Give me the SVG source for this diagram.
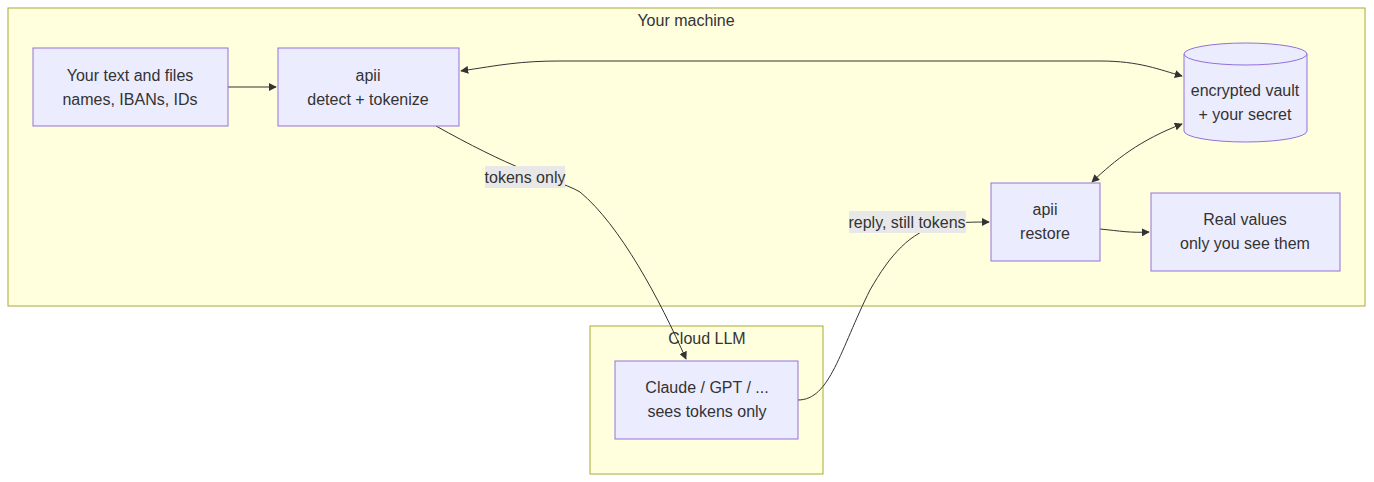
<svg xmlns="http://www.w3.org/2000/svg" width="1374" height="482" viewBox="0 0 1374 482">
<style>
text{font-family:"Liberation Sans",Arial,sans-serif;font-size:16px;fill:#333;text-anchor:middle;dominant-baseline:central}
.cl{fill:#ffffde;stroke:#aaaa33;stroke-width:1}
.n{fill:#ECECFF;stroke:#9370DB;stroke-width:1}
.e{fill:none;stroke:#333;stroke-width:1}
.lb{fill:#e8e8e8}
</style>
<defs>
<marker id="ah" viewBox="0 0 10 10" refX="9" refY="5" markerWidth="8" markerHeight="8" orient="auto"><path d="M0,0L10,5L0,10z" fill="#333"/></marker>
<marker id="as" viewBox="0 0 10 10" refX="1" refY="5" markerWidth="8" markerHeight="8" orient="auto"><path d="M10,0L0,5L10,10z" fill="#333"/></marker>
</defs>
<g id="cluster-machine"><rect class="cl" x="8" y="8" width="1357" height="298"/><text x="686" y="20">Your machine</text></g>
<g id="cluster-cloud"><rect class="cl" x="590" y="326" width="233" height="148"/><text x="707" y="338">Cloud LLM</text></g>
<g id="edges">
<path class="e" d="M228,87L276,87" marker-end="url(#ah)"/>
<path class="e" d="M461,71C500,65 520,61 560,61L1100,61C1140,61 1160,70 1182,76" marker-start="url(#as)" marker-end="url(#ah)"/>
<path class="e" d="M436,126C470,145 500,160 525,170C545,180 565,183 580,192C620,225 660,300 686,359" marker-end="url(#ah)"/>
<path class="e" d="M798,400C830,400 840,350 870,290C890,255 910,232 940,225C960,222 975,222 989,222" marker-end="url(#ah)"/>
<path class="e" d="M1100,229C1120,231 1130,233 1149,232" marker-end="url(#ah)"/>
<path class="e" d="M1092,182C1115,160 1140,140 1182,124" marker-start="url(#as)" marker-end="url(#ah)"/>
<rect class="lb" x="485" y="166" width="80" height="22"/><text x="525" y="177">tokens only</text>
<rect class="lb" x="849" y="211" width="117" height="22"/><text x="907" y="222">reply, still tokens</text>
</g>
<g id="node-input"><rect class="n" x="33" y="48" width="195" height="78"/><text x="130" y="75">Your text and files</text><text x="130" y="99">names, IBANs, IDs</text></g>
<g id="node-tokenize"><rect class="n" x="278" y="48" width="181" height="78"/><text x="368" y="75">apii</text><text x="368" y="99">detect + tokenize</text></g>
<g id="node-vault"><path class="n" d="M1184,54A61.5,11 0 0 1 1307,54L1307,131A61.5,11 0 0 1 1184,131Z"/><path class="e" style="stroke:#9370DB" d="M1184,54A61.5,11 0 0 0 1307,54"/><text x="1245" y="90">encrypted vault</text><text x="1245" y="114">+ your secret</text></g>
<g id="node-restore"><rect class="n" x="991" y="183" width="109" height="78"/><text x="1045" y="209">apii</text><text x="1045" y="233">restore</text></g>
<g id="node-output"><rect class="n" x="1151" y="193" width="189" height="78"/><text x="1245" y="219">Real values</text><text x="1245" y="243">only you see them</text></g>
<g id="node-llm"><rect class="n" x="615" y="361" width="183" height="78"/><text x="707" y="387">Claude / GPT / ...</text><text x="707" y="411">sees tokens only</text></g>
</svg>
